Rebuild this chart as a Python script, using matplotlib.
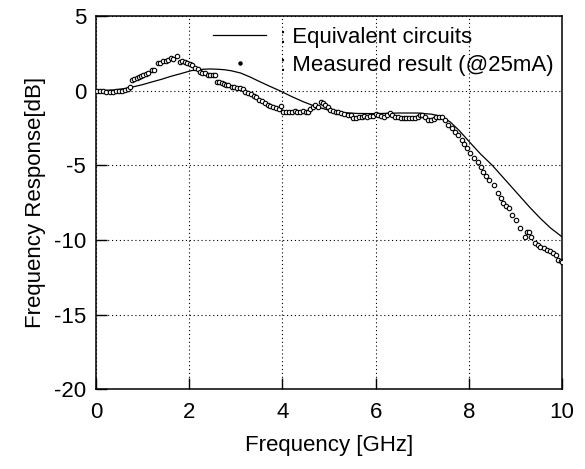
import numpy as np
import matplotlib
matplotlib.use('Agg')
import matplotlib.pyplot as plt
from matplotlib.lines import Line2D

plt.rcParams['font.family'] = ['Liberation Sans', 'DejaVu Sans']
plt.rcParams['axes.unicode_minus'] = False

# equivalent circuit model (solid line)
model_freq = [0, 0.2, 0.4, 0.6, 0.73, 1.0, 1.2, 1.41, 1.6, 1.8, 2.05, 2.3, 2.45,
              2.62, 2.75, 2.9, 3.1, 3.3, 3.5, 3.7, 3.95, 4.2, 4.45, 4.7, 5.0,
              5.3, 5.6, 6.0, 6.5, 6.9, 7.2, 7.4, 7.6, 7.8, 8.0, 8.25, 8.5,
              8.8, 9.1, 9.3, 9.53, 9.75, 10.0]
model_db = [0, 0.02, 0.05, 0.13, 0.2, 0.4, 0.58, 0.76, 0.95, 1.12, 1.34, 1.43, 1.45,
            1.43, 1.4, 1.33, 1.18, 0.92, 0.62, 0.33, -0.02, -0.4, -0.75, -1.05, -1.32,
            -1.47, -1.53, -1.54, -1.5, -1.5, -1.58, -1.72, -2.1, -2.7, -3.4, -4.25, -5.0,
            -6.05, -7.1, -7.8, -8.55, -9.2, -9.8]

# measured response @25mA (open circles)
meas_freq = [0.02, 0.08, 0.15, 0.22, 0.3, 0.37, 0.44, 0.5, 0.56, 0.62, 0.68, 0.73,
             0.77, 0.82, 0.87, 0.92, 0.97, 1.02, 1.07, 1.12, 1.2, 1.24, 1.33, 1.38,
             1.43, 1.5, 1.55, 1.6, 1.66, 1.73, 1.8, 1.85, 1.9, 1.96, 2.01, 2.05,
             2.12, 2.18, 2.23, 2.28, 2.34, 2.4, 2.45, 2.5, 2.55, 2.6, 2.65, 2.7,
             2.75, 2.8, 2.84, 2.91, 2.97, 3.03, 3.09, 3.15, 3.2, 3.26, 3.32, 3.38,
             3.44, 3.5, 3.56, 3.62, 3.68, 3.74, 3.8, 3.86, 3.92, 3.97, 4.02, 4.08,
             4.14, 4.2, 4.26, 4.32, 4.38, 4.44, 4.5, 4.55, 4.6, 4.65, 4.7, 4.76,
             4.82, 4.87, 4.92, 4.97, 5.02, 5.08, 5.14, 5.2, 5.26, 5.32, 5.4, 5.47,
             5.52, 5.58, 5.64, 5.7, 5.76, 5.82, 5.88, 5.94, 6.0, 6.06, 6.12, 6.18,
             6.24, 6.3, 6.36, 6.42, 6.48, 6.54, 6.6, 6.66, 6.72, 6.78, 6.84, 6.9,
             6.95, 7.0, 7.06, 7.12, 7.18, 7.24, 7.3, 7.36, 7.42, 7.48, 7.56, 7.63,
             7.7, 7.77, 7.85, 7.9, 7.95, 8.02, 8.1, 8.2, 8.26, 8.31, 8.36, 8.42,
             8.53, 8.63, 8.69, 8.74, 8.8, 8.85, 8.93, 9.0, 9.1, 9.2, 9.25, 9.28,
             9.33, 9.42, 9.48, 9.53, 9.6, 9.67, 9.73, 9.8, 9.86, 9.92, 9.97, 10.0]
meas_db = [0.0, -0.02, -0.05, -0.08, -0.1, -0.08, -0.05, -0.02, 0.0, 0.05, 0.1, 0.25,
           0.72, 0.8, 0.85, 0.92, 1.0, 1.05, 1.1, 1.16, 1.39, 1.4, 1.83, 1.88,
           1.95, 2.0, 2.08, 2.17, 2.1, 2.32, 1.94, 1.95, 1.9, 1.85, 1.78, 1.72,
           1.5, 1.45, 1.25, 1.2, 1.16, 1.05, 1.05, 1.05, 1.05, 0.6, 0.55, 0.5,
           0.45, 0.4, 0.38, 0.27, 0.25, 0.2, 0.16, 0.1, -0.07, -0.15, -0.25, -0.35,
           -0.45, -0.62, -0.7, -0.85, -0.95, -1.05, -1.1, -1.18, -1.25, -1.05, -1.4, -1.42,
           -1.45, -1.4, -1.38, -1.45, -1.42, -1.35, -1.42, -1.46, -1.2, -1.07, -0.96, -1.1,
           -0.74, -0.85, -0.95, -1.1, -1.29, -1.35, -1.4, -1.45, -1.5, -1.55, -1.6, -1.6,
           -1.85, -1.82, -1.75, -1.74, -1.72, -1.74, -1.7, -1.72, -1.58, -1.65, -1.7, -1.74,
           -1.6, -1.47, -1.6, -1.74, -1.8, -1.85, -1.85, -1.85, -1.85, -1.85, -1.82, -1.75,
           -1.63, -1.62, -1.8, -1.96, -1.96, -1.9, -1.8, -1.78, -1.78, -2.0, -2.3, -2.5,
           -2.74, -3.0, -3.3, -3.6, -3.86, -4.2, -4.53, -4.75, -5.1, -5.42, -5.7, -5.98,
           -6.32, -6.87, -7.2, -7.54, -7.7, -7.88, -8.3, -8.66, -9.22, -9.78, -9.5, -9.44,
           -9.8, -10.22, -10.35, -10.45, -10.55, -10.67, -10.75, -10.89, -11.0, -11.34, -11.4, -11.45]

labels = [': Equivalent circuits', ': Measured result (@25mA)']

fig = plt.figure(figsize=(5.85, 4.69), dpi=100)
ax = fig.add_axes([0.164, 0.170, 0.797, 0.796])

ax.plot(model_freq, model_db, color='black', lw=0.9, zorder=3)
ax.plot(meas_freq, meas_db, ls='none', marker='o', ms=3.2, mfc='white',
        mec='black', mew=0.8, zorder=4)

ax.set_xlim(0, 10)
ax.set_ylim(-20, 5)
ax.set_xticks([0, 2, 4, 6, 8, 10])
ax.set_yticks([-20, -15, -10, -5, 0, 5])
ax.grid(True, color='black', ls=(0, (1, 2.5)), lw=0.8)
ax.tick_params(direction='in', length=8, width=1, labelsize=16, pad=9)
ax.tick_params(axis='y', pad=7)
for s in ax.spines.values():
    s.set_linewidth(1.1)

ax.set_xlabel('Frequency [GHz]', fontsize=16, labelpad=9)
ax.set_ylabel('Frequency Response[dB]', fontsize=16, labelpad=6)

handles = [Line2D([], [], color='black', lw=0.9),
           Line2D([], [], ls='none', marker='o', ms=2.2, color='black')]
ax.legend(handles, labels, loc='upper left', bbox_to_anchor=(0.251, 0.97),
          frameon=False, fontsize=16, handlelength=2.4, handletextpad=0.6,
          borderpad=0, borderaxespad=0, labelspacing=0.3)

fig.savefig('out.png', dpi=100)
